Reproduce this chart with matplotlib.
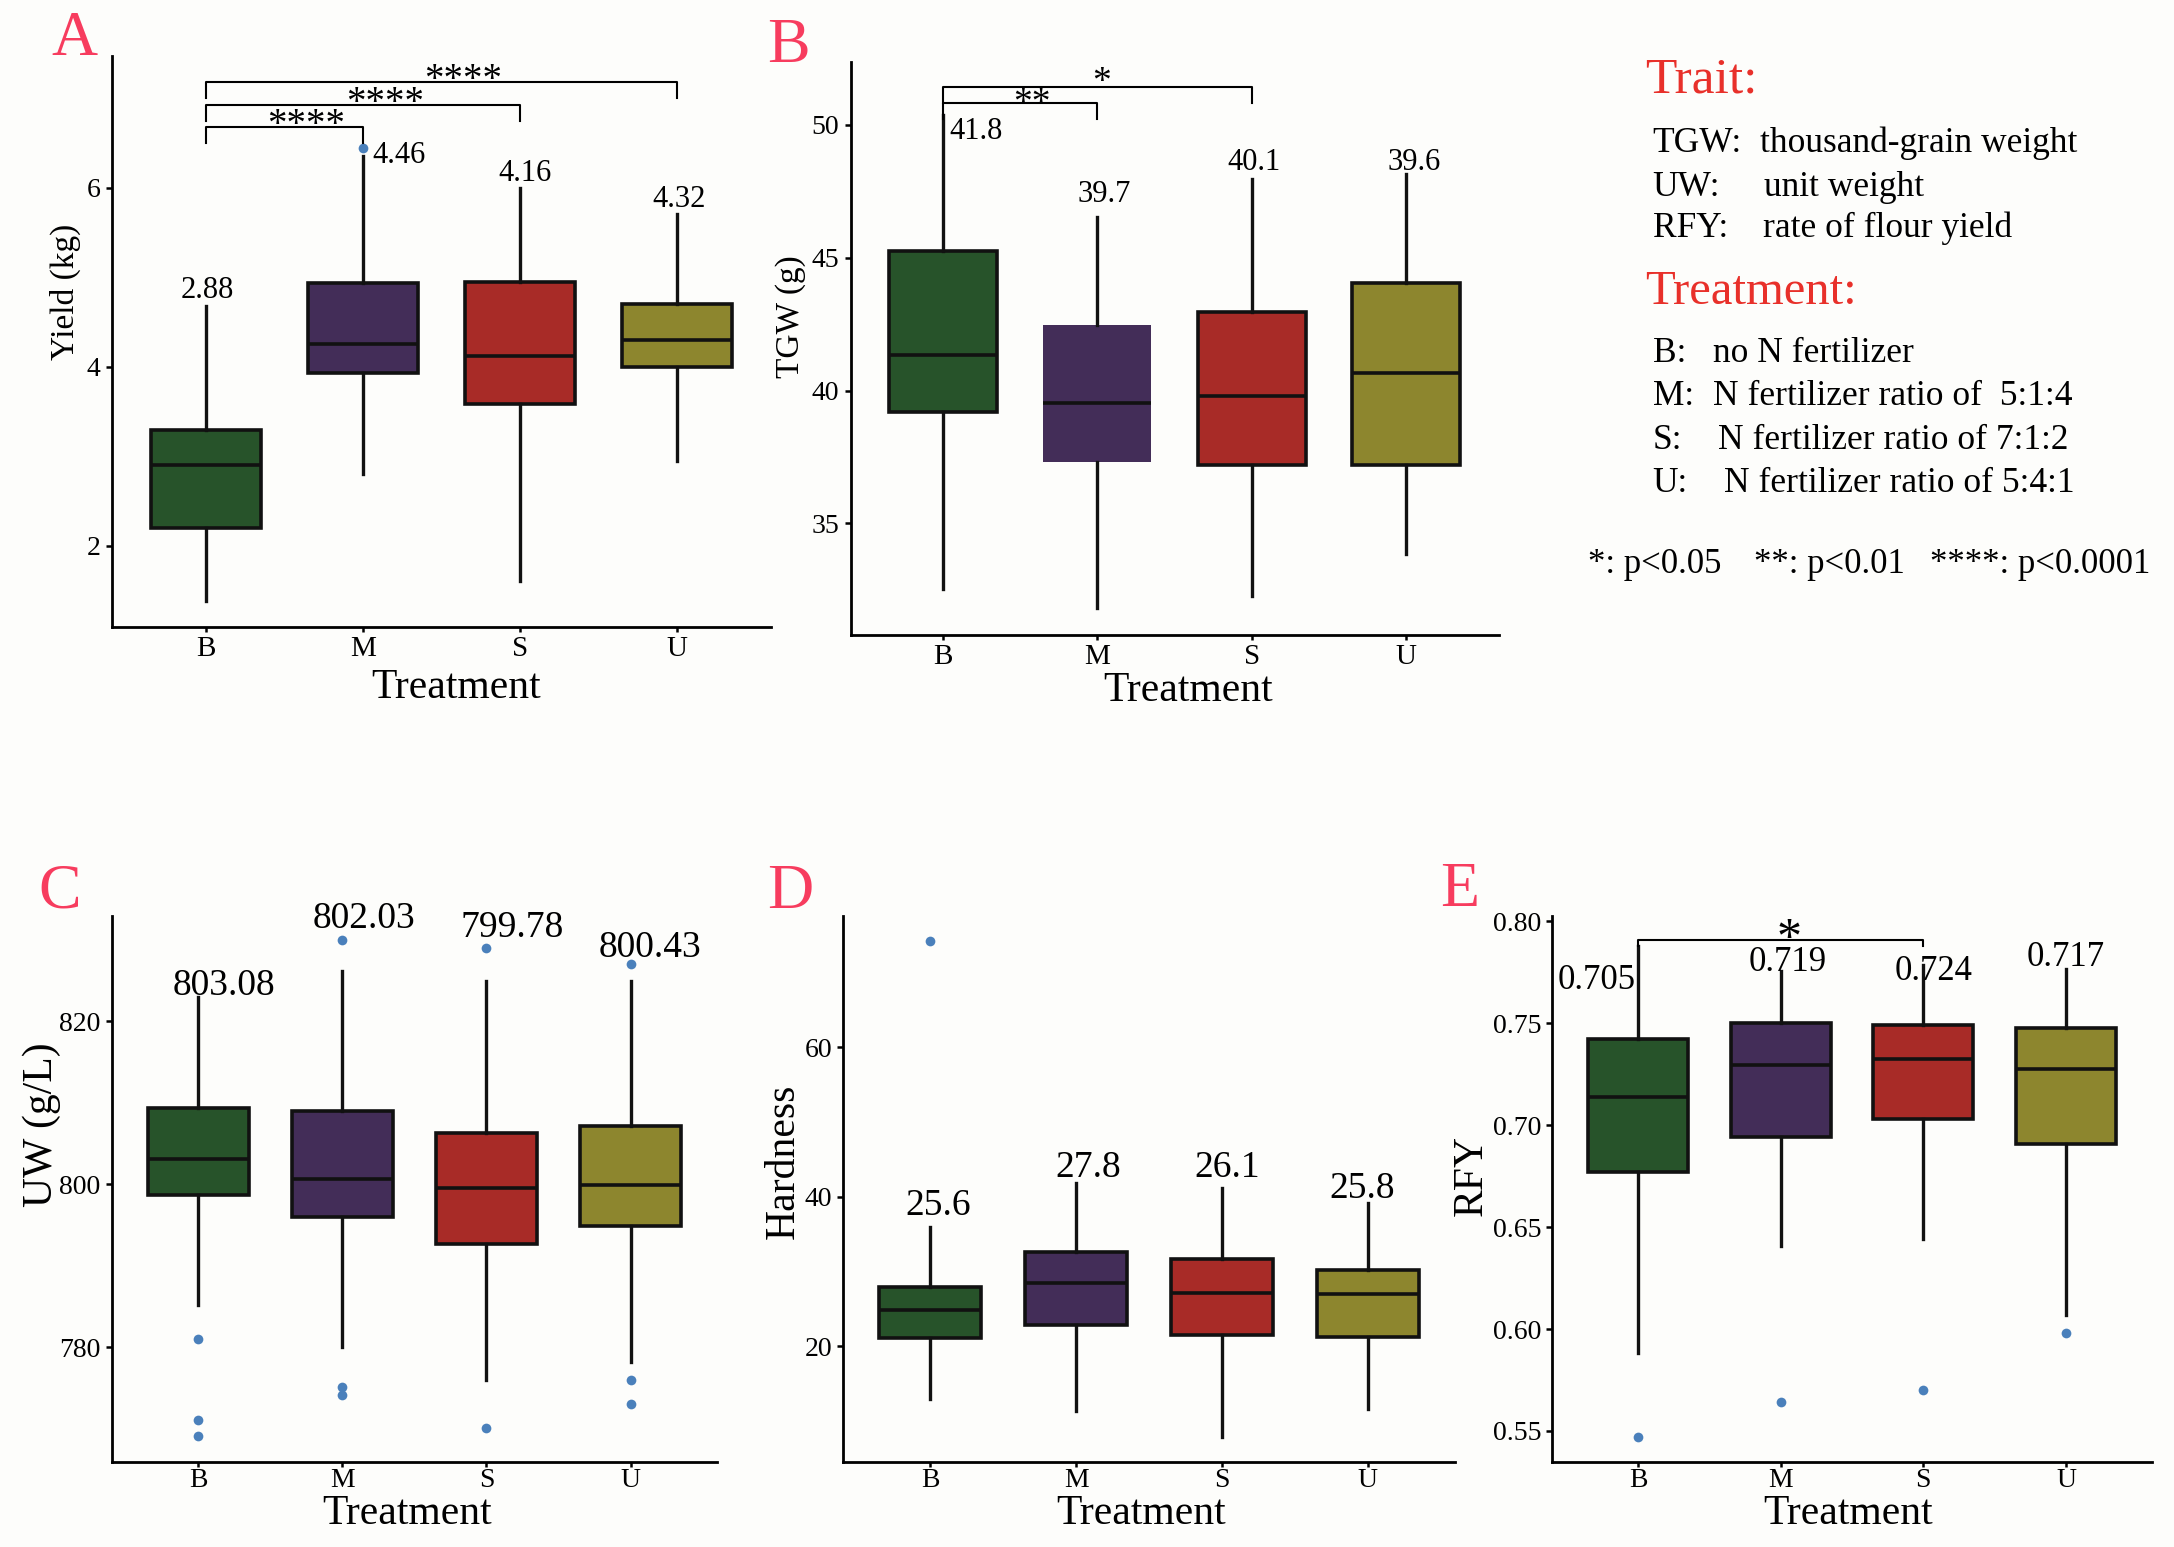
import matplotlib.pyplot as plt

plt.rcParams['font.family'] = ['Liberation Serif', 'DejaVu Serif']

W, H = 2174, 1547
groups = ['B', 'M', 'S', 'U']
fills = ['#27532a', '#432d58', '#a82b27', '#8d862e']
flier_color = '#4a80bb'

##### box statistics
# A: yield (kg)
yield_low = [1.385, 2.80, 1.60, 2.95]
yield_q1 = [2.196, 3.93, 3.58, 3.99]
yield_med = [2.898, 4.25, 4.115, 4.295]
yield_q3 = [3.288, 4.93, 4.94, 4.70]
yield_high = [4.68, 6.35, 6.00, 5.70]
yield_out = [[], [6.44], [], []]
yield_mean = ['2.88', '4.46', '4.16', '4.32']

# B: thousand-grain weight (g)
tgw_low = [32.52, 31.83, 32.26, 33.83]
tgw_q1 = [39.19, 37.32, 37.18, 37.18]
tgw_med = [41.33, 39.52, 39.81, 40.66]
tgw_q3 = [45.27, 42.45, 42.94, 44.06]
tgw_high = [50.36, 46.53, 47.95, 48.15]
tgw_out = [[], [], [], []]
tgw_mean = ['41.8', '39.7', '40.1', '39.6']

# C: unit weight (g/L)
uw_low = [785.13, 780.06, 776.01, 778.12]
uw_q1 = [798.69, 796.01, 792.70, 794.93]
uw_med = [803.13, 800.63, 799.49, 799.94]
uw_q3 = [809.34, 809.06, 806.32, 807.12]
uw_high = [823.0, 826.15, 825.01, 825.01]
uw_out = [[781.0, 771.0, 769.06], [830.03, 775.1, 774.07], [829.0, 770.03], [827.0, 775.95, 773.05]]
uw_mean = ['803.08', '802.03', '799.78', '800.43']

# D: hardness
hard_low = [12.99, 11.26, 7.78, 11.63]
hard_q1 = [21.05, 22.79, 21.55, 21.24]
hard_med = [24.78, 28.50, 27.13, 26.95]
hard_q3 = [27.88, 32.65, 31.66, 30.23]
hard_high = [36.0, 41.89, 41.2, 39.22]
hard_out = [[74.26], [], [], []]
hard_mean = ['25.6', '27.8', '26.1', '25.8']

# E: rate of flour yield
rfy_low = [0.5882, 0.6409, 0.6439, 0.607]
rfy_q1 = [0.6768, 0.6943, 0.703, 0.6905]
rfy_med = [0.7139, 0.7295, 0.7325, 0.7273]
rfy_q3 = [0.742, 0.750, 0.7493, 0.7477]
rfy_high = [0.7877, 0.7755, 0.7786, 0.7764]
rfy_out = [[0.5473], [0.5643], [0.570], [0.598]]
rfy_mean = ['0.705', '0.719', '0.724', '0.717']

# significance brackets: (group i, group j, stars, bracket height)
yield_sig = [(0, 1, '****', 6.68), (0, 2, '****', 6.92), (0, 3, '****', 7.185)]
tgw_sig = [(0, 1, '**', 50.81), (0, 2, '*', 51.43)]
rfy_sig = [(0, 2, '*', 0.7905)]


def px_rect(left, top, right, bottom):
    return [left / W, 1 - bottom / H, (right - left) / W, (bottom - top) / H]


def draw_panel(ax, low, q1, med, q3, high, out, means, ylim, yticks, ylabel,
               ylab_xy, xlab_xy, ylab_size, mean_size, mean_offsets, fmt=None,
               xtick_size=21, xtick_pad=3):
    stats = []
    for i in range(4):
        stats.append(dict(whislo=low[i], q1=q1[i], med=med[i], q3=q3[i],
                          whishi=high[i], fliers=out[i]))
    bp = ax.bxp(stats, positions=[1, 2, 3, 4], widths=0.7, patch_artist=True,
                showcaps=False,
                boxprops=dict(linewidth=2.6, edgecolor='#111111'),
                whiskerprops=dict(linewidth=2.4, color='#111111'),
                medianprops=dict(linewidth=2.6, color='#111111'),
                flierprops=dict(marker='o', markerfacecolor=flier_color,
                                markeredgecolor='none', markersize=7))
    for patch, c in zip(bp['boxes'], fills):
        patch.set_facecolor(c)
    ax.set_xlim(0.4, 4.6)
    ax.set_ylim(*ylim)
    ax.set_xticks([1, 2, 3, 4])
    ax.set_xticklabels(groups, fontsize=xtick_size)
    ax.set_yticks(yticks)
    if fmt:
        ax.set_yticklabels([fmt % v for v in yticks])
    ax.tick_params(axis='y', labelsize=20, length=4, width=1.8, pad=4)
    ax.tick_params(axis='x', length=3.5, width=1.8, pad=xtick_pad)
    for s in ['top', 'right']:
        ax.spines[s].set_visible(False)
    for s in ['left', 'bottom']:
        ax.spines[s].set_linewidth(2.0)
    ax.set_facecolor('none')
    ax.set_ylabel(ylabel, fontsize=ylab_size, ha='center', va='center')
    ax.yaxis.set_label_coords(*ylab_xy)
    ax.set_xlabel('Treatment', fontsize=30, ha='center', va='center')
    ax.xaxis.set_label_coords(*xlab_xy)
    # mean values above whiskers
    for i, m in enumerate(means):
        dx, dy, ha = mean_offsets[i]
        ax.annotate(m, (i + 1, high[i]), xytext=(dx, dy), textcoords='offset pixels',
                    ha=ha, va='baseline', fontsize=mean_size, annotation_clip=False)
    return bp


def draw_sig(ax, sig, tip, star_size, star_dx, star_dy):
    for k, (i, j, stars, y) in enumerate(sig):
        x1, x2 = i + 1, j + 1
        ax.plot([x1, x1, x2, x2], [y - tip, y, y, y - tip], color='black',
                lw=1.5, clip_on=False)
        ax.annotate(stars, ((x1 + x2) / 2, y), xytext=(star_dx[k], star_dy[k]),
                    textcoords='offset pixels', ha='center', va='baseline',
                    fontsize=star_size, annotation_clip=False)


fig = plt.figure(figsize=(W / 100, H / 100), dpi=100, facecolor='#fdfdfb')

axA = fig.add_axes(px_rect(111.5, 56, 771, 627))
draw_panel(axA, yield_low, yield_q1, yield_med, yield_q3, yield_high, yield_out,
           yield_mean, (1.09, 7.47), [2, 4, 6], 'Yield (kg)', (-0.070, 0.587),
           (0.522, -0.107), 24, 22,
           [(2, 8, 'center'), (10, -7, 'left'), (5, 7, 'center'), (2, 7, 'center')])
draw_sig(axA, yield_sig, 0.18, 28, [22, 22, 22], [-8, -8, -8])

axB = fig.add_axes(px_rect(850.5, 62.4, 1498.6, 635))
bpB = draw_panel(axB, tgw_low, tgw_q1, tgw_med, tgw_q3, tgw_high, tgw_out,
                 tgw_mean, (30.8, 52.35), [35, 40, 45, 50], 'TGW (g)', (-0.092, 0.556),
                 (0.521, -0.097), 24, 22,
                 [(6, -24, 'left'), (7, 15, 'center'), (2, 9, 'center'), (8, 4, 'center')])
bpB['boxes'][1].set_edgecolor('none')
draw_sig(axB, tgw_sig, 0.59, 27, [12, 4], [-10, -5])

axC = fig.add_axes(px_rect(111.7, 916.4, 717, 1462))
draw_panel(axC, uw_low, uw_q1, uw_med, uw_q3, uw_high, uw_out,
           uw_mean, (765.9, 832.9), [780, 800, 820], 'UW (g/L)', (-0.115, 0.618),
           (0.4885, -0.094), 30, 27,
           [(26, 2, 'center'), (22, 43, 'center'), (26, 44, 'center'), (19, 24, 'center')],
           xtick_size=20, xtick_pad=1)

axD = fig.add_axes(px_rect(843, 916.4, 1455, 1462))
draw_panel(axD, hard_low, hard_q1, hard_med, hard_q3, hard_high, hard_out,
           hard_mean, (4.5, 77.5), [20, 40, 60], 'Hardness', (-0.098, 0.552),
           (0.487, -0.094), 30, 27,
           [(8, 12, 'center'), (12, 6, 'center'), (5, 11, 'center'), (-5, 5, 'center')],
           xtick_size=20, xtick_pad=1)

axE = fig.add_axes(px_rect(1552.4, 916.4, 2151.6, 1462))
draw_panel(axE, rfy_low, rfy_q1, rfy_med, rfy_q3, rfy_high, rfy_out,
           rfy_mean, (0.5348, 0.8023), [0.55, 0.60, 0.65, 0.70, 0.75, 0.80], 'RFY',
           (-0.1345, 0.5245), (0.494, -0.094), 30, 25,
           [(-2, -43, 'right'), (7, 0, 'center'), (10, -15, 'center'), (0, 3, 'center')],
           fmt='%.2f', xtick_size=20, xtick_pad=1)
draw_sig(axE, rfy_sig, 0.0027, 36, [8], [-12])

# panel letters
letter_color = '#f73c5e'
for lab, x, y in [('A', 51.7, 55), ('B', 766.7, 62), ('C', 38.2, 908),
                  ('D', 767.6, 908), ('E', 1440, 906)]:
    fig.text(x / W, 1 - y / H, lab, fontsize=46, color=letter_color,
             ha='left', va='baseline')

# legend text block
red = '#e8302a'
fig.text(1645 / W, 1 - 92.7 / H, 'Trait:', fontsize=37, color=red, va='baseline')
fig.text(1645 / W, 1 - 304.5 / H, 'Treatment:', fontsize=35, color=red, va='baseline')
trait_rows = [('TGW:', 'thousand-grain weight', 1760, 152),
              ('UW:', 'unit weight', 1764.4, 195.7),
              ('RFY:', 'rate of flour yield', 1763, 237.2)]
treat_rows = [('B:', 'no N fertilizer', 1712.8, 361.8),
              ('M:', 'N fertilizer ratio of  5:1:4', 1712.8, 405.3),
              ('S:', 'N fertilizer ratio of 7:1:2', 1718.4, 448.8),
              ('U:', 'N fertilizer ratio of 5:4:1', 1723.6, 492.3)]
for key, desc, xd, y in trait_rows + treat_rows:
    fig.text(1652.6 / W, 1 - y / H, key, fontsize=25.5, va='baseline')
    fig.text(xd / W, 1 - y / H, desc, fontsize=25.5, va='baseline')
for s, x in [('*: p<0.05', 1588), ('**: p<0.01', 1753.7), ('****: p<0.0001', 1930)]:
    fig.text(x / W, 1 - 573.3 / H, s, fontsize=25, va='baseline')

fig.savefig('out.png', dpi=100, facecolor=fig.get_facecolor())
